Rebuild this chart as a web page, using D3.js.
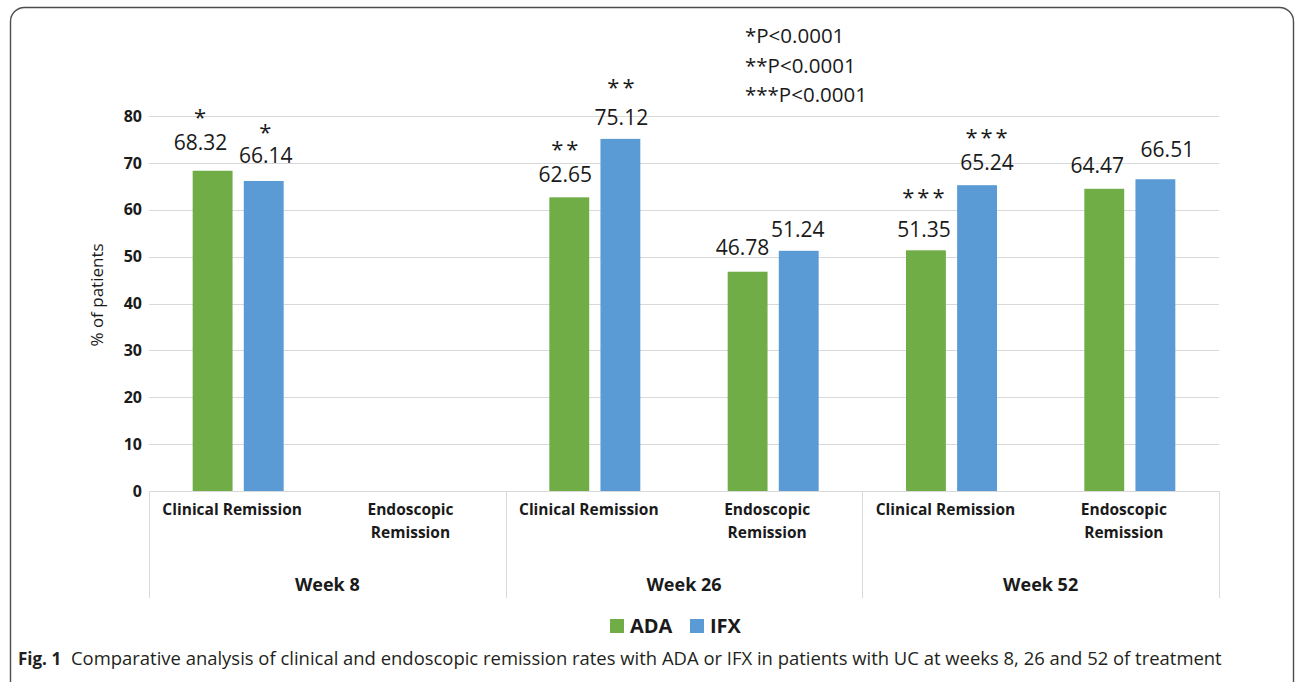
<!DOCTYPE html>
<html>
<head>
<meta charset="utf-8">
<script src="https://cdn.jsdelivr.net/npm/d3@7"></script>
<style>
  html, body { margin: 0; padding: 0; background: #fff; }
  svg { display: block; }
</style>
</head>
<body>
<svg id="chart" width="1295" height="682"></svg>
<script>
// ---------- data ----------
const weeks = ["Week 8", "Week 26", "Week 52"];
const remissionTypes = ["Clinical Remission", "Endoscopic Remission"];
const seriesNames = ["ADA", "IFX"];
const adaValues = [68.32, null, 62.65, 46.78, 51.35, 64.47];
const ifxValues = [66.14, null, 75.12, 51.24, 65.24, 66.51];
const adaMarks = ["*", "", "**", "", "***", ""];
const ifxMarks = ["*", "", "**", "", "***", ""];
const yTicks = [0, 10, 20, 30, 40, 50, 60, 70, 80];
const pNotes = ["*P<0.0001", "**P<0.0001", "***P<0.0001"];
const yTitle = "% of patients";
const captionBold = "Fig. 1";
const captionText = "Comparative analysis of clinical and endoscopic remission rates with ADA or IFX in patients with UC at weeks 8, 26 and 52 of treatment";

(function () {
// ---------- layout (label nudges as placed in the original figure) ----------
// [dx, dy from bar top, star dy from label baseline]
const adaNudge = [[-12, -21, -37], null, [-4, -15, -37], [-5, -17, 0], [-2, -13, -44], [-7, -16, 0]];
const ifxNudge = [[2, -18, -35], null, [1, -14, -42], [-1, -14, 0], [10, -15, -37], [12, -22, 0]];

const colors = { ADA: "#70ad47", IFX: "#5b9bd5" };
const font = "'Open Sans', sans-serif";
const ink = "#1a1a1a";
const svg = d3.select("#chart");

// outer frame
svg.append("rect")
  .attr("x", 10.5).attr("y", 7.5)
  .attr("width", 1283).attr("height", 700)
  .attr("rx", 14).attr("ry", 14)
  .attr("fill", "none").attr("stroke", "#4d4d4d").attr("stroke-width", 1.4);

const pLeft = 149, pRight = 1219, pTop = 116, pBottom = 491;

const cats = [];
weeks.forEach((w, wi) => remissionTypes.forEach((r, ri) => cats.push({ key: w + "|" + r, week: w, type: r, i: wi * 2 + ri })));

const x0 = d3.scaleBand().domain(cats.map(d => d.key)).range([pLeft, pRight]).padding(0);
const xWeek = d3.scaleBand().domain(weeks).range([pLeft, pRight]).padding(0);
const pairWidth = 91;
const x1 = d3.scaleBand().domain(seriesNames).range([0, pairWidth]).paddingInner(0.22).paddingOuter(0);
const y = d3.scaleLinear().domain([0, 80]).range([pBottom, pTop]);

// gridlines
svg.append("g").selectAll("line").data(yTicks).join("line")
  .attr("x1", pLeft).attr("x2", pRight)
  .attr("y1", d => Math.round(y(d)) + 0.5).attr("y2", d => Math.round(y(d)) + 0.5)
  .attr("stroke", "#d9d9d9").attr("stroke-width", 1);

// y axis labels
const yAxis = d3.axisLeft(y).tickValues(yTicks).tickSize(0).tickPadding(7);
const gy = svg.append("g").attr("transform", `translate(${pLeft},0)`).call(yAxis);
gy.select(".domain").remove();
gy.selectAll("text")
  .attr("font-family", font).attr("font-size", 16).attr("font-weight", 700)
  .attr("fill", ink);

// y title
svg.append("text")
  .attr("transform", `translate(103,295) rotate(-90)`)
  .attr("text-anchor", "middle")
  .attr("font-family", font).attr("font-size", 17)
  .attr("fill", ink)
  .text(yTitle);

// group separators
const seps = weeks.map(w => xWeek(w)).concat([pRight]);
svg.append("g").selectAll("line").data(seps).join("line")
  .attr("x1", d => Math.round(d) + 0.5).attr("x2", d => Math.round(d) + 0.5)
  .attr("y1", pBottom).attr("y2", 598)
  .attr("stroke", "#d9d9d9").attr("stroke-width", 1);

// bars
const rows = [];
cats.forEach((c, i) => {
  rows.push({ cat: c, s: "ADA", v: adaValues[i], m: adaMarks[i], n: adaNudge[i] });
  rows.push({ cat: c, s: "IFX", v: ifxValues[i], m: ifxMarks[i], n: ifxNudge[i] });
});
const valid = rows.filter(d => d.v != null);
const bx = d => x0(d.cat.key) + (x0.bandwidth() - pairWidth) / 2 + x1(d.s);
const lx = d => bx(d) + x1.bandwidth() / 2 + d.n[0];
const ly = d => y(d.v) + d.n[1];

svg.append("g").selectAll("rect").data(valid).join("rect")
  .attr("x", d => bx(d)).attr("y", d => y(d.v))
  .attr("width", x1.bandwidth()).attr("height", d => y(0) - y(d.v))
  .attr("fill", d => colors[d.s]);

// value labels
svg.append("g").selectAll("text").data(valid).join("text")
  .attr("x", lx).attr("y", ly)
  .attr("text-anchor", "middle")
  .attr("font-family", font).attr("font-size", 21)
  .attr("fill", ink)
  .text(d => d.v.toFixed(2));

// significance marks (glyph centre ~12px above its baseline)
svg.append("g").selectAll("text").data(valid.filter(d => d.m)).join("text")
  .attr("x", d => lx(d) + 1)
  .attr("y", d => ly(d) + d.n[2] + 12)
  .attr("text-anchor", "middle")
  .attr("font-family", font).attr("font-size", 22)
  .attr("letter-spacing", 3)
  .attr("fill", ink)
  .text(d => d.m);

// x axis baseline
svg.append("line")
  .attr("x1", pLeft).attr("x2", pRight).attr("y1", pBottom + 0.5).attr("y2", pBottom + 0.5)
  .attr("stroke", "#d9d9d9");

// category labels
const catG = svg.append("g").selectAll("text").data(cats).join("text")
  .attr("text-anchor", "middle")
  .attr("font-family", font).attr("font-size", 15.5).attr("font-weight", 700)
  .attr("fill", ink);
catG.each(function (d) {
  const t = d3.select(this);
  const cx = x0(d.key) + x0.bandwidth() / 2 - 6;
  const words = d.type.split(" ");
  if (d.type.startsWith("Clinical")) {
    t.append("tspan").attr("x", cx).attr("y", 515).text(d.type);
  } else {
    t.append("tspan").attr("x", cx).attr("y", 515).text(words[0]);
    t.append("tspan").attr("x", cx).attr("y", 538).text(words[1]);
  }
});

// week labels
svg.append("g").selectAll("text").data(weeks).join("text")
  .attr("x", d => xWeek(d) + xWeek.bandwidth() / 2)
  .attr("y", 591)
  .attr("text-anchor", "middle")
  .attr("font-family", font).attr("font-size", 18).attr("font-weight", 700)
  .attr("fill", ink)
  .text(d => d);

// p-value notes
svg.append("g").selectAll("text").data(pNotes).join("text")
  .attr("x", 745).attr("y", (d, i) => 43 + i * 29.5)
  .attr("font-family", font).attr("font-size", 20.5)
  .attr("fill", ink)
  .text(d => d);

// legend
const legend = svg.append("g").selectAll("g").data(seriesNames).join("g")
  .attr("transform", (d, i) => `translate(${610 + i * 80},619)`);
legend.append("rect").attr("width", 14).attr("height", 14).attr("fill", d => colors[d]);
legend.append("text").attr("x", 20).attr("y", 14)
  .attr("font-family", font).attr("font-size", 20).attr("font-weight", 700)
  .attr("fill", ink).text(d => d);

// caption
const cap = svg.append("text").attr("x", 18).attr("y", 665)
  .attr("font-family", font).attr("font-size", 17).attr("fill", "#231f20");
cap.append("tspan").attr("font-weight", 700).text(captionBold);
const body = cap.append("tspan").attr("x", 71).attr("font-weight", 400).text(captionText);
const wBody = body.node().getComputedTextLength();
body.attr("font-size", 17 * (1222 - 71) / wBody);
})();
</script>
</body>
</html>
